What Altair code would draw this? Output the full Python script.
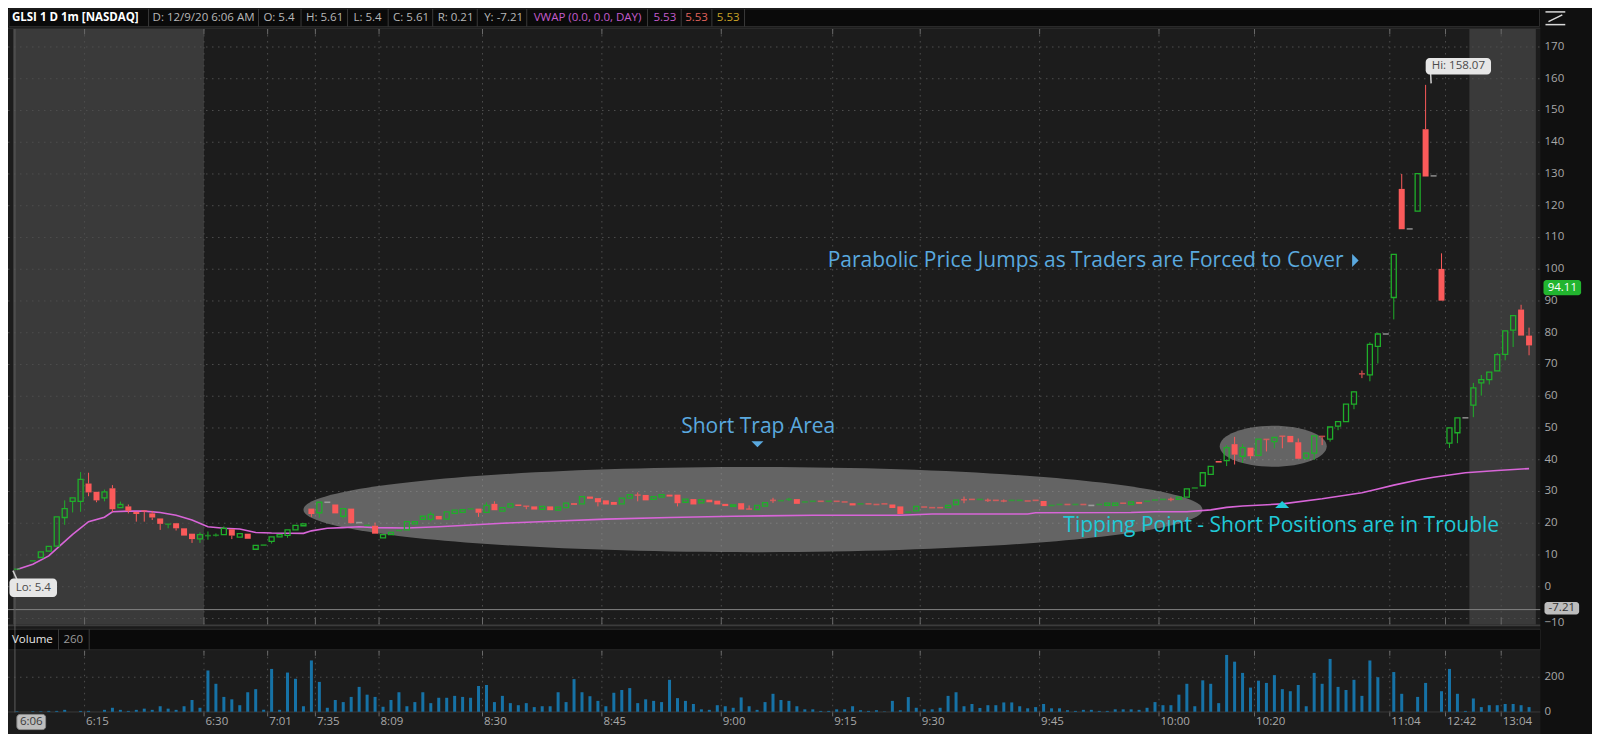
import altair as alt
import pandas as pd
import numpy as np

# ---------------- data ----------------
BAR = [0] + list(range(2, 191))
OPEN = [5.4, 8.0, 9.2, 11.2, 12.8, 21.8, 26.9, 26.9, 32.5,
        29.9, 28.0, 31.0, 24.9, 25.3, 23.6, 24.0, 23.1, 21.5, 19.6,
        20.0, 18.4, 16.7, 15.1, 16.0, 16.1, 16.4, 18.1, 15.6, 16.7,
        11.8, 13.0, 14.3, 15.7, 16.2, 17.9, 19.2, 24.6, 23.3, 26.6,
        25.9, 22.2, 24.6, 20.2, 19.2, 19.2, 15.4, 16.4, 17.6, 17.9,
        19.8, 21.2, 21.2, 22.3, 21.3, 23.1, 23.4, 24.4, 24.6, 23.4,
        26.1, 23.8, 25.1, 25.9, 25.4, 25.3, 24.4, 25.3, 24.1, 24.9,
        26.3, 26.1, 28.4, 27.9, 27.2, 26.7, 26.1, 27.9, 29.0, 28.9,
        27.5, 28.2, 29.0, 29.0, 26.6, 27.6, 26.4, 27.4, 27.1, 26.1,
        25.3, 26.3, 24.5, 24.3, 25.4, 27.3, 27.0, 27.4, 27.6, 26.6,
        26.8, 27.0, 26.8, 27.0, 26.8, 26.3, 26.0, 26.2, 26.0, 26.2,
        25.9, 25.3, 23.4, 23.9, 25.2, 25.0, 25.0, 24.9, 25.9, 27.5,
        27.6, 27.4, 27.3, 27.3, 27.1, 27.1, 27.1, 27.1, 27.3, 27.0,
        25.5, 25.8, 26.0, 25.8, 26.0, 25.6, 25.8, 25.6, 25.6, 26.4,
        25.9, 26.7, 26.8, 27.2, 27.4, 27.6, 27.5, 28.2, 31.0, 31.8,
        35.4, 39.6, 39.7, 44.9, 41.1, 43.8, 41.4, 46.5, 45.7, 47.5,
        47.5, 45.5, 40.5, 42.1, 47.5, 46.5, 50.6, 52.0, 57.5, 67.2,
        66.7, 75.7, 79.6, 91.1, 125.3, 112.7, 118.3, 144.1, 129.4, 100.1,
        45.2, 48.5, 53.2, 57.2, 64.2, 65.2, 68.0, 73.2, 80.8, 87.3, 79.1]
HIGH = [5.61, 8.3, 11.0, 12.7, 22.0, 27.2, 28.0, 36.1, 35.9,
        29.9, 30.6, 32.0, 26.8, 25.9, 23.6, 24.1, 23.9, 21.5, 19.8,
        20.0, 18.4, 16.7, 17.1, 17.4, 16.8, 19.0, 18.1, 16.7, 16.7,
        13.0, 13.2, 15.7, 16.4, 17.9, 19.3, 19.8, 24.6, 26.6, 26.6,
        25.9, 24.6, 24.6, 20.2, 19.5, 20.2, 16.4, 17.1, 17.8, 20.5,
        20.5, 22.2, 23.6, 22.3, 23.6, 24.1, 24.3, 24.6, 24.6, 26.6,
        26.9, 24.9, 26.1, 25.9, 25.4, 25.3, 25.3, 25.3, 25.1, 26.3,
        26.3, 28.4, 28.4, 27.9, 27.2, 26.7, 27.9, 29.0, 29.7, 28.9,
        28.4, 29.0, 29.0, 29.0, 27.6, 27.6, 27.4, 27.4, 27.1, 26.1,
        25.8, 26.3, 25.6, 25.6, 26.5, 28.0, 27.2, 28.0, 27.6, 26.8,
        27.0, 27.0, 27.0, 27.0, 26.8, 26.3, 26.2, 26.2, 26.0, 26.2,
        25.9, 25.3, 23.6, 25.3, 25.2, 25.0, 25.0, 25.6, 27.3, 28.4,
        27.6, 27.6, 27.8, 27.3, 27.5, 27.3, 27.3, 27.1, 27.3, 27.0,
        25.7, 26.0, 26.0, 26.0, 26.0, 25.6, 26.0, 26.3, 26.3, 26.4,
        26.7, 26.7, 27.0, 27.4, 27.6, 28.1, 28.2, 30.8, 31.2, 35.9,
        37.9, 39.6, 44.6, 47.2, 44.9, 43.8, 46.5, 46.5, 47.0, 47.5,
        47.5, 46.7, 42.1, 47.5, 47.5, 50.3, 52.0, 57.5, 61.6, 68.1,
        77.0, 80.0, 79.6, 104.7, 130.0, 112.7, 130.1, 158.07, 129.4, 105.0,
        50.0, 53.2, 53.2, 64.2, 66.7, 67.6, 73.7, 80.6, 85.4, 88.8, 81.6]
LOW = [5.4, 8.0, 9.2, 11.2, 12.8, 19.5, 23.4, 23.6, 28.5,
       26.6, 26.9, 23.6, 24.9, 23.1, 20.5, 20.5, 21.0, 17.9, 18.4,
       17.7, 16.1, 13.8, 13.8, 14.8, 15.8, 16.4, 15.0, 15.6, 15.1,
       11.8, 13.0, 13.6, 15.7, 15.4, 17.9, 19.2, 22.0, 21.7, 26.6,
       23.1, 21.5, 20.0, 20.2, 19.2, 16.7, 15.4, 16.4, 17.6, 17.9,
       19.8, 21.2, 20.5, 21.2, 21.3, 23.1, 23.4, 24.4, 22.0, 23.4,
       24.1, 23.8, 25.1, 25.4, 24.4, 24.3, 24.4, 24.1, 24.1, 24.9,
       25.8, 26.1, 27.7, 25.3, 25.9, 25.8, 26.1, 27.9, 26.9, 27.2,
       27.5, 28.2, 28.4, 25.3, 26.6, 25.9, 26.4, 26.6, 25.9, 25.4,
       25.3, 24.3, 24.4, 24.3, 25.4, 26.4, 27.0, 27.0, 26.1, 26.6,
       26.8, 26.8, 26.8, 26.8, 26.6, 25.6, 26.0, 26.0, 25.8, 26.0,
       24.8, 22.9, 23.4, 23.9, 25.0, 24.8, 24.8, 24.9, 25.9, 26.3,
       27.4, 27.4, 26.7, 27.1, 26.6, 27.1, 27.1, 26.9, 27.1, 25.4,
       25.5, 25.8, 25.8, 25.8, 25.8, 25.6, 25.8, 25.6, 25.6, 26.2,
       25.9, 26.1, 26.8, 27.2, 27.4, 26.9, 27.5, 28.2, 31.0, 31.8,
       35.4, 39.1, 38.0, 38.5, 39.0, 40.3, 41.1, 42.6, 43.6, 43.6,
       45.5, 40.3, 40.0, 39.9, 44.6, 45.7, 49.3, 52.0, 55.9, 65.7,
       64.7, 70.3, 79.6, 84.2, 112.6, 112.7, 118.3, 129.2, 129.4, 90.1,
       43.7, 45.2, 53.2, 53.4, 60.2, 63.7, 68.0, 71.3, 75.5, 79.1, 72.9]
CLOSE = [5.61, 8.3, 11.0, 12.7, 22.0, 24.6, 28.0, 33.8, 29.7,
         27.2, 29.9, 24.4, 25.9, 23.9, 22.9, 23.7, 21.8, 19.8, 19.8,
         18.4, 16.1, 15.0, 16.4, 16.2, 16.3, 18.4, 16.1, 16.7, 15.1,
         13.0, 13.2, 15.7, 16.4, 17.9, 19.3, 19.8, 22.9, 26.6, 26.6,
         23.1, 24.6, 20.0, 20.2, 19.4, 16.7, 16.4, 17.1, 17.8, 20.5,
         20.5, 22.2, 22.8, 21.2, 23.6, 24.1, 24.3, 24.6, 23.3, 25.6,
         24.1, 24.9, 26.1, 25.4, 25.3, 24.3, 25.3, 24.1, 25.1, 26.3,
         25.8, 28.4, 27.7, 26.6, 25.9, 25.8, 27.9, 29.0, 28.7, 27.2,
         28.4, 29.0, 28.4, 26.3, 27.6, 25.9, 27.4, 26.6, 25.9, 25.4,
         25.8, 24.3, 24.4, 25.6, 26.5, 27.1, 27.2, 27.6, 26.1, 26.8,
         27.0, 26.8, 27.0, 26.8, 26.6, 25.6, 26.2, 26.0, 25.8, 26.0,
         24.8, 22.9, 23.6, 25.3, 25.0, 24.8, 24.8, 25.6, 27.3, 27.3,
         27.4, 27.6, 27.1, 27.1, 26.9, 27.3, 27.3, 26.9, 27.1, 25.4,
         25.7, 26.0, 25.8, 26.0, 25.8, 25.6, 26.0, 26.3, 26.3, 26.2,
         26.7, 26.1, 27.0, 27.4, 27.6, 27.4, 28.2, 30.8, 31.2, 35.9,
         37.9, 39.1, 43.8, 41.6, 43.8, 41.1, 46.5, 46.3, 47.0, 47.3,
         45.5, 40.3, 42.1, 47.5, 47.2, 50.3, 52.0, 57.5, 61.4, 66.9,
         76.3, 79.6, 79.6, 104.7, 112.6, 112.7, 130.1, 129.2, 129.4, 90.1,
         50.0, 53.2, 53.2, 62.6, 65.2, 67.6, 73.1, 80.6, 85.4, 79.1, 76.0]
VOLUME = [3, 0, 3, 3, 5, 5, 11, 0, 5, 5,
          0, 11, 23, 11, 5, 11, 18, 11, 32, 18,
          11, 32, 68, 23, 239, 162, 86, 72, 38, 113,
          131, 11, 248, 11, 227, 191, 32, 297, 173, 23,
          68, 56, 86, 144, 99, 86, 29, 68, 113, 32,
          56, 113, 50, 81, 81, 92, 86, 81, 149, 155,
          56, 92, 50, 38, 50, 27, 32, 32, 113, 56,
          189, 113, 90, 63, 32, 110, 126, 137, 50, 72,
          63, 56, 185, 79, 63, 45, 14, 11, 38, 32,
          23, 83, 32, 11, 56, 104, 68, 63, 32, 14,
          14, 5, 5, 14, 14, 32, 9, 5, 9, 2,
          63, 9, 85, 23, 14, 14, 23, 92, 113, 32,
          45, 22, 38, 38, 54, 54, 32, 20, 27, 45,
          20, 20, 9, 5, 11, 11, 5, 5, 14, 14,
          14, 11, 23, 56, 38, 38, 99, 162, 32, 182,
          162, 50, 329, 290, 225, 140, 180, 167, 212, 131,
          119, 155, 32, 225, 162, 306, 144, 126, 185, 92,
          297, 200, 0, 230, 104, 0, 86, 167, 0, 119,
          248, 104, 5, 77, 27, 38, 38, 45, 45, 38, 27]
VWAP_BAR = [0, 2, 4, 5, 7, 9, 11, 12, 14, 16, 18, 20, 22, 24, 26, 28, 30, 32, 36, 37,
            39, 41, 43, 45, 49, 53, 61, 68, 74, 82, 90, 100, 111, 115, 127, 128, 140,
            143, 147, 150, 152, 154, 159, 164, 169, 171, 173, 176, 178, 182, 186, 190]
VWAP = [5.4, 7.1, 9.7, 12.0, 16.5, 20.5, 21.9, 23.6, 23.8, 23.8, 23.4, 22.5, 21.0, 18.9,
        18.4, 18.2, 17.1, 16.9, 16.8, 17.6, 18.4, 18.6, 18.9, 18.6, 18.5, 18.9, 20.0, 20.7,
        21.3, 21.8, 22.2, 22.5, 22.5, 22.9, 22.9, 23.3, 23.4, 23.6, 23.6, 24.2, 25.0, 25.4,
        26.1, 27.7, 29.6, 30.8, 32.0, 33.6, 34.5, 35.9, 36.6, 37.2]
TICK_BAR = [0, 9, 24, 32, 38, 46, 59, 74, 89, 103, 114, 129, 144, 156, 173, 180, 187]
TICK_LABEL = ["6:06", "6:15", "6:30", "7:01", "7:35", "8:09", "8:30", "8:45", "9:00",
              "9:15", "9:30", "9:45", "10:00", "10:20", "11:04", "12:42", "13:04"]
PRICE_TICKS = list(range(-10, 171, 10))
VOL_TICKS = [0, 200]
SESSION_START = [-0.5, 182.5]
SESSION_END = [23.5, 190.85]
CURSOR_PRICE = -7.21
LAST_PRICE = 94.11
HEADER_TEXT = ["GLSI 1 D 1m [NASDAQ]", "D: 12/9/20 6:06 AM", "O: 5.4", "H: 5.61", "L: 5.4",
               "C: 5.61", "R: 0.21", "Y: -7.21", "VWAP (0.0, 0.0, DAY)", "5.53", "5.53", "5.53"]

# ---------------- style / layout ----------------
FONT = "Open Sans"
G, R, GRAY = "#1fae2a", "#fa5a5a", "#b4b4b4"
VWC, VOLC = "#d865d8", "#1672a6"
BLUE, CYAN = "#5aa9df", "#20c9d8"
W, H = 1584, 726


def PX(x):
    return round(x * 0.99, 2)


def PY(y):
    return round(y * 0.9784, 2)


XS = alt.Scale(domain=[-0.4944, 197.28], nice=False, zero=False)
YP = alt.Scale(domain=[-46.39, 182.28], nice=False, zero=False)
YV = alt.Scale(domain=[-128.8, 4075.3], nice=False, zero=False)
ONE = pd.DataFrame({"z": [0]})


def rect(x1, y1, x2, y2, fill, stroke=None, sw=1.0, r=0, op=1.0):
    kw = dict(fill=fill, opacity=op)
    if stroke:
        kw.update(stroke=stroke, strokeWidth=sw)
    else:
        kw.update(strokeWidth=0)
    if r:
        kw["cornerRadius"] = r
    return alt.Chart(ONE).mark_rect(**kw).encode(
        x=alt.value(PX(x1)), x2=alt.value(PX(x2)), y=alt.value(PY(y1)), y2=alt.value(PY(y2)))


def seg(x1, y1, x2, y2, color, sw=1.0, dash=None):
    kw = dict(color=color, strokeWidth=sw)
    if dash:
        kw["strokeDash"] = dash
    return alt.Chart(ONE).mark_rule(**kw).encode(
        x=alt.value(PX(x1)), x2=alt.value(PX(x2)), y=alt.value(PY(y1)), y2=alt.value(PY(y2)))


def text(x, y, s, color, size=11.5, weight="normal", align="left"):
    return alt.Chart(ONE).mark_text(align=align, baseline="middle", fontSize=size,
                                    fontWeight=weight, font=FONT, color=color).encode(
        x=alt.value(PX(x)), y=alt.value(PY(y)), text=alt.value(s))


def symbol(x, y, path, size, color, op=1.0):
    return alt.Chart(ONE).mark_point(shape=path, size=size, filled=True, fill=color,
                                     opacity=op, strokeWidth=0).encode(
        x=alt.value(PX(x)), y=alt.value(PY(y)))


# ---------------- frames ----------------
df = pd.DataFrame({"k": BAR, "o": OPEN, "h": HIGH, "l": LOW, "c": CLOSE})
df["top"] = df[["o", "c"]].max(axis=1)
df["bot"] = df[["o", "c"]].min(axis=1)
df["mid"] = (df["o"] + df["c"]) / 2
df["dir"] = np.where(df.c > df.o, "up", np.where(df.c < df.o, "down", "flat"))
df["small"] = (df.c - df.o).abs() < 0.45

vdf = pd.DataFrame({"k": list(range(len(VOLUME))), "v": VOLUME})
vdf = vdf[vdf.v > 0]
vw = pd.DataFrame({"k": VWAP_BAR, "p": VWAP})
ticks = pd.DataFrame({"t": [k - 0.5 for k in TICK_BAR], "label": TICK_LABEL})
pticks = pd.DataFrame({"p": PRICE_TICKS})
vticks = pd.DataFrame({"v": VOL_TICKS})
sess = pd.DataFrame({"s": SESSION_START, "e": SESSION_END})
cur = pd.DataFrame({"p": [CURSOR_PRICE]})

X = alt.X("k:Q", scale=XS, axis=None)
COLOR = alt.Color("dir:N", scale=alt.Scale(domain=["up", "down", "flat"], range=[G, R, GRAY]), legend=None)

layers = []
# backgrounds
layers.append(rect(0, 0, 1548, 20, "#0a0a0a"))
layers.append(rect(0, 20, 1548, 21.5, "#2a2a2a"))
layers.append(rect(0, 21.5, 1548, 630, "#1c1c1c"))
layers.append(alt.Chart(sess).mark_rect(color="#3a3a3a").encode(
    x=alt.X("s:Q", scale=XS, axis=None), x2="e:Q", y=alt.value(PY(21.5)), y2=alt.value(PY(630))))
layers.append(rect(0, 630, 1548, 632, "#3c3c3c"))
layers.append(rect(0, 635, 1548, 656, "#0a0a0a", stroke="#2c2c2c"))
layers.append(rect(0, 657, 1548, 742, "#1c1c1c"))

# grid
layers.append(alt.Chart(pticks).mark_rule(color="#4e4e4e", strokeDash=[1.5, 4.5]).encode(
    x=alt.value(0), x2=alt.value(PX(1548)), y=alt.Y("p:Q", scale=YP, axis=None)))
layers.append(alt.Chart(ticks.iloc[1:]).mark_rule(color="#4e4e4e", strokeDash=[1.5, 4.5]).encode(
    x=alt.X("t:Q", scale=XS, axis=None), y=alt.value(PY(21.5)), y2=alt.value(PY(630))))
layers.append(alt.Chart(ticks.iloc[1:]).mark_rule(color="#4e4e4e", strokeDash=[1.5, 4.5]).encode(
    x=alt.X("t:Q", scale=XS, axis=None), y=alt.value(PY(657)), y2=alt.value(PY(719))))
layers.append(alt.Chart(vticks.iloc[1:]).mark_rule(color="#4e4e4e", strokeDash=[1.5, 4.5]).encode(
    x=alt.value(0), x2=alt.value(PX(1548)), y=alt.Y("v:Q", scale=YV, axis=None)))
for (y1, y2) in [(21.5, 27), (623, 630), (657, 662), (719, 724)]:
    layers.append(alt.Chart(ticks.iloc[1:]).mark_rule(color="#6a6a6a").encode(
        x=alt.X("t:Q", scale=XS, axis=None), y=alt.value(PY(y1)), y2=alt.value(PY(y2))))
layers.append(seg(0, 719.5, 1548, 719.5, "#3a3a3a"))

# cursor cross-hair
layers.append(alt.Chart(cur).mark_rule(color="#808080", strokeWidth=1).encode(
    x=alt.value(0), x2=alt.value(PX(1548)), y=alt.Y("p:Q", scale=YP, axis=None)))
layers.append(seg(7, 21.5, 7, 720, "#5c5c5c"))

# ellipses
layers.append(symbol(752.5, 512.7, "M-1,0A1,0.0947 0 1,1 1,0A1,0.0947 0 1,1 -1,0Z", 899.0 ** 2, "#a0a0a0", 0.55))
layers.append(symbol(1278, 448, "M-1,0A1,0.383 0 1,1 1,0A1,0.383 0 1,1 -1,0Z", 107.0 ** 2, "#a0a0a0", 0.55))

# vwap
layers.append(alt.Chart(vw).mark_line(color=VWC, strokeWidth=1.6).encode(
    x=X, y=alt.Y("p:Q", scale=YP, axis=None)))

# volume
layers.append(alt.Chart(vdf).mark_bar(width=3, color=VOLC, orient="vertical").encode(
    x=X, y=alt.Y("v:Q", scale=YV, axis=None), y2=alt.datum(0)))

# candles
layers.append(alt.Chart(df).mark_rule(strokeWidth=1).encode(
    x=X, y=alt.Y("h:Q", scale=YP, axis=None), y2="top:Q", color=COLOR))
layers.append(alt.Chart(df).mark_rule(strokeWidth=1).encode(
    x=X, y=alt.Y("bot:Q", scale=YP, axis=None), y2="l:Q", color=COLOR))
layers.append(alt.Chart(df[(df.dir == "up") & (~df.small)]).mark_bar(
    width=5, filled=False, color=G, strokeWidth=1.3, orient="vertical").encode(
    x=X, y=alt.Y("top:Q", scale=YP, axis=None), y2="bot:Q"))
layers.append(alt.Chart(df[(df.dir == "down") & (~df.small)]).mark_bar(
    width=6, color=R, orient="vertical").encode(
    x=X, y=alt.Y("top:Q", scale=YP, axis=None), y2="bot:Q"))
layers.append(alt.Chart(df[df.small]).mark_tick(orient="horizontal", thickness=1.6, size=6).encode(
    x=X, y=alt.Y("mid:Q", scale=YP, axis=None), color=COLOR))

# annotations
layers.append(text(680, 428, "Short Trap Area", BLUE, size=21))
layers.append(symbol(757, 446, "M-1,-0.5L1,-0.5L0,0.5Z", 144, BLUE))
layers.append(text(828, 259, "Parabolic Price Jumps as Traders are Forced to Cover", BLUE, size=21))
layers.append(symbol(1361, 258, "M-0.5,-1L0.5,0L-0.5,1Z", 169, BLUE))
layers.append(text(1066, 529, "Tipping Point - Short Positions are in Trouble", CYAN, size=21))
layers.append(symbol(1287, 507.5, "M-1,0.5L1,0.5L0,-0.5Z", 196, CYAN))

# callouts
layers.append(seg(5, 575, 9, 584, "#cfcfcf", 1.5))
layers.append(rect(1.5, 583, 49.5, 602, "#e6e6e6", r=4))
layers.append(text(25.5, 592.5, "Lo: 5.4", "#4a4a4a", align="center"))
layers.append(seg(1437, 67, 1437.5, 77, "#cfcfcf", 1.5))
layers.append(rect(1432, 51, 1498, 68, "#e6e6e6", r=4))
layers.append(text(1465, 59.5, "Hi: 158.07", "#4a4a4a", align="center"))

# right strip and axes
layers.append(rect(1548, 0, 1600, 742, "#101010"))
layers.append(alt.Chart(pticks[pticks.p >= 0]).mark_text(align="left", baseline="middle", fontSize=11.5,
                                                         font=FONT, color="#a8a8a8").encode(
    x=alt.value(PX(1552)), y=alt.Y("p:Q", scale=YP, axis=None), text=alt.Text("p:Q")))
layers.append(alt.Chart(pticks[pticks.p < 0]).mark_text(align="left", baseline="middle", dy=5, fontSize=11.5,
                                                        font=FONT, color="#a8a8a8").encode(
    x=alt.value(PX(1552)), y=alt.Y("p:Q", scale=YP, axis=None), text=alt.Text("p:Q")))
layers.append(alt.Chart(vticks).mark_text(align="left", baseline="middle", fontSize=11.5, font=FONT,
                                          color="#a8a8a8").encode(
    x=alt.value(PX(1552)), y=alt.Y("v:Q", scale=YV, axis=None), text=alt.Text("v:Q")))
layers.append(rect(1551, 278, 1589, 293.5, "#22b52f", r=3))
layers.append(text(1570, 286, f"{LAST_PRICE:.2f}", "#ffffff", align="center"))
layers.append(rect(1552, 607, 1587, 620, "#bdbdbd", r=3))
layers.append(text(1569.5, 613.5, f"{CURSOR_PRICE:.2f}", "#333333", align="center"))
layers.append(seg(1553, 4, 1573, 4, "#d8d8d8", 1.5))
layers.append(seg(1553, 17, 1573, 17, "#d8d8d8", 1.5))
layers.append(seg(1556, 14, 1570, 7, "#d8d8d8", 1.5))

# x labels
layers.append(alt.Chart(ticks.iloc[1:]).mark_text(align="left", baseline="middle", dx=1.5, fontSize=11.5,
                                                  font=FONT, color="#a8a8a8").encode(
    x=alt.X("t:Q", scale=XS, axis=None), y=alt.value(PY(730)), text="label:N"))
layers.append(rect(9, 722, 38, 737.5, "#bdbdbd", stroke="#8a8a8a", r=3))
layers.append(text(23.5, 730, TICK_LABEL[0], "#3a3a3a", align="center"))

# header
layers.append(rect(1, 1, 1547, 19, "#0a0a0a", stroke="#2e2e2e"))
HX = [4, 146, 258, 301, 349, 389, 434, 481, 531, 652, 684, 716]
HC = ["#ffffff"] + ["#b8b8b8"] * 7 + ["#c55ccc", "#c55ccc", "#e0625c", "#c9a227"]
for x, s, c in zip(HX, HEADER_TEXT, HC):
    layers.append(text(x, 10, s, c, weight="bold" if x == 4 else "normal"))
for x in [142, 253, 296, 343, 384, 429, 474, 524, 646, 680, 711, 744]:
    layers.append(seg(x, 1, x, 19, "#3a3a3a"))
layers.append(text(4, 645.5, "Volume", "#e8e8e8"))
layers.append(seg(51, 635, 51, 656, "#3a3a3a"))
layers.append(text(56, 645.5, "260", "#9a9a9a"))
layers.append(seg(82, 635, 82, 656, "#3a3a3a"))

chart = alt.layer(*layers).resolve_scale(y="independent").properties(
    width=W, height=H, padding=0, background="#1a1a1a",
    autosize=alt.AutoSizeParams(type="none")
).configure_view(strokeWidth=0)

chart.save("out.html", embed_options={"renderer": "svg", "actions": False})
